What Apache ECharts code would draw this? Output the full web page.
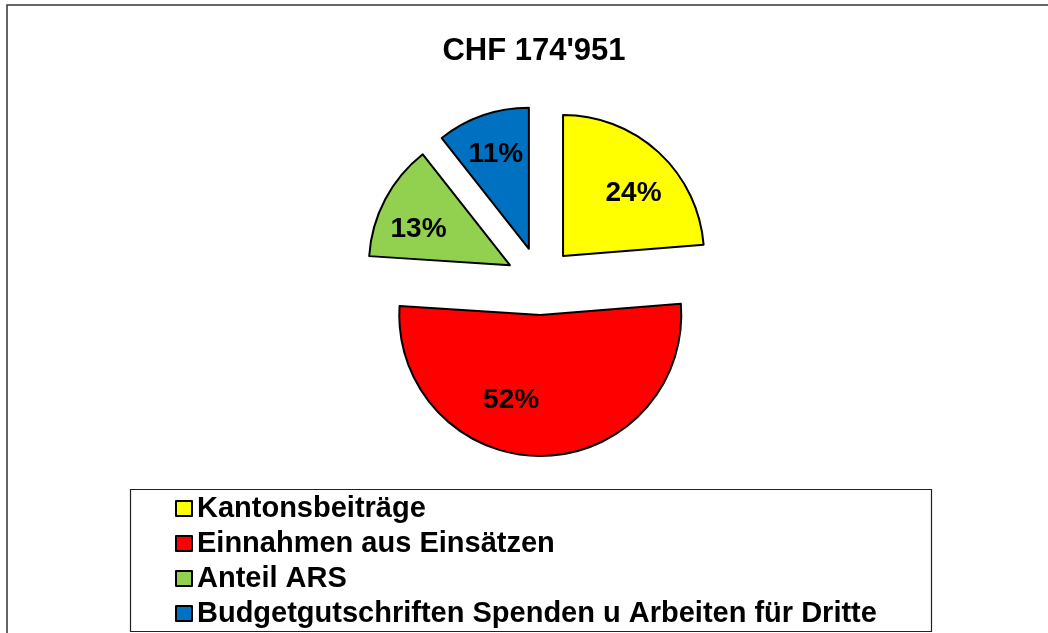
<!DOCTYPE html>
<html>
<head>
<meta charset="utf-8">
<script src="https://cdn.jsdelivr.net/npm/echarts@6/dist/echarts.min.js"></script>
<style>
html,body{margin:0;padding:0;background:#fff;}
#c{width:1048px;height:633px;}
</style>
</head>
<body>
<div id="c"></div>
<script>
const titleText = "CHF 174'951";
const categories = ['Kantonsbeiträge', 'Einnahmen aus Einsätzen', 'Anteil ARS', 'Budgetgutschriften Spenden u Arbeiten für Dritte'];
const values = [41500, 91500, 23400, 18551];
const colors = ['#FFFF00', '#FF0000', '#92D050', '#0070C0'];

const FONT = '"Liberation Sans", Arial, sans-serif';
const center = [540, 281];
const R = 141;
const offset = 34;

const labelShift = [[2, 11], [-30, -16], [-2, 11], [0, 1]];

const mainData = categories.map((name, i) => ({
  name, value: values[i], selected: true,
  itemStyle: { color: colors[i] },
  select: { itemStyle: { color: colors[i], borderColor: '#000', borderWidth: 2 } }
}));
const labelData = categories.map((name, i) => ({
  name: name + '_lbl', value: values[i], selected: true
}));

const chart = echarts.init(document.getElementById('c'), null, { renderer: 'canvas' });
chart.setOption({
  backgroundColor: '#fff',
  animation: false,
  color: colors,
  title: {
    text: titleText, left: 534, top: 36, textAlign: 'center', padding: 0,
    textStyle: { fontFamily: FONT, fontSize: 31, fontWeight: 'bold', color: '#000' }
  },
  graphic: [
    { type: 'rect', shape: { x: 7, y: 5, width: 1100, height: 700 }, style: { fill: null, stroke: '#333', lineWidth: 1.5 }, silent: true, z: -1 },
    { type: 'rect', shape: { x: 130.5, y: 489.5, width: 801, height: 142 }, style: { fill: null, stroke: '#222', lineWidth: 1.2 }, silent: true, z: -1 }
  ],
  legend: {
    data: categories,
    orient: 'vertical',
    left: 175, top: 494,
    width: 760, height: 160,
    padding: 0,
    itemWidth: 16, itemHeight: 15,
    itemGap: 6,
    itemTextGap: 11,
    icon: 'rect',
    selectedMode: false,
    itemStyle: { borderColor: '#000', borderWidth: 2 },
    textStyle: { fontFamily: FONT, fontSize: 29, fontWeight: 'bold', color: '#000' }
  },
  series: [
    {
      type: 'pie',
      center: center,
      radius: [0, R],
      startAngle: 90,
      clockwise: true,
      selectedMode: 'multiple',
      selectedOffset: offset,
      avoidLabelOverlap: false,
      silent: true,
      itemStyle: { borderColor: '#000', borderWidth: 2 },
      emphasis: { scale: false },
      label: { show: false },
      labelLine: { show: false },
      data: mainData,
      z: 2
    },
    {
      type: 'pie',
      center: center,
      radius: [0, 196],
      startAngle: 90,
      clockwise: true,
      selectedMode: 'multiple',
      selectedOffset: offset,
      avoidLabelOverlap: false,
      silent: true,
      legendHoverLink: false,
      itemStyle: { color: 'rgba(0,0,0,0)', borderWidth: 0 },
      select: { itemStyle: { color: 'rgba(0,0,0,0)', borderWidth: 0 } },
      emphasis: { scale: false },
      label: {
        show: true, position: 'inside',
        formatter: p => Math.round(p.percent) + '%',
        fontFamily: FONT, fontSize: 28, fontWeight: 'bold', color: '#000'
      },
      labelLayout: p => ({ dx: labelShift[p.dataIndex][0], dy: labelShift[p.dataIndex][1] }),
      labelLine: { show: false },
      data: labelData,
      z: 3
    }
  ]
});
</script>
</body>
</html>
